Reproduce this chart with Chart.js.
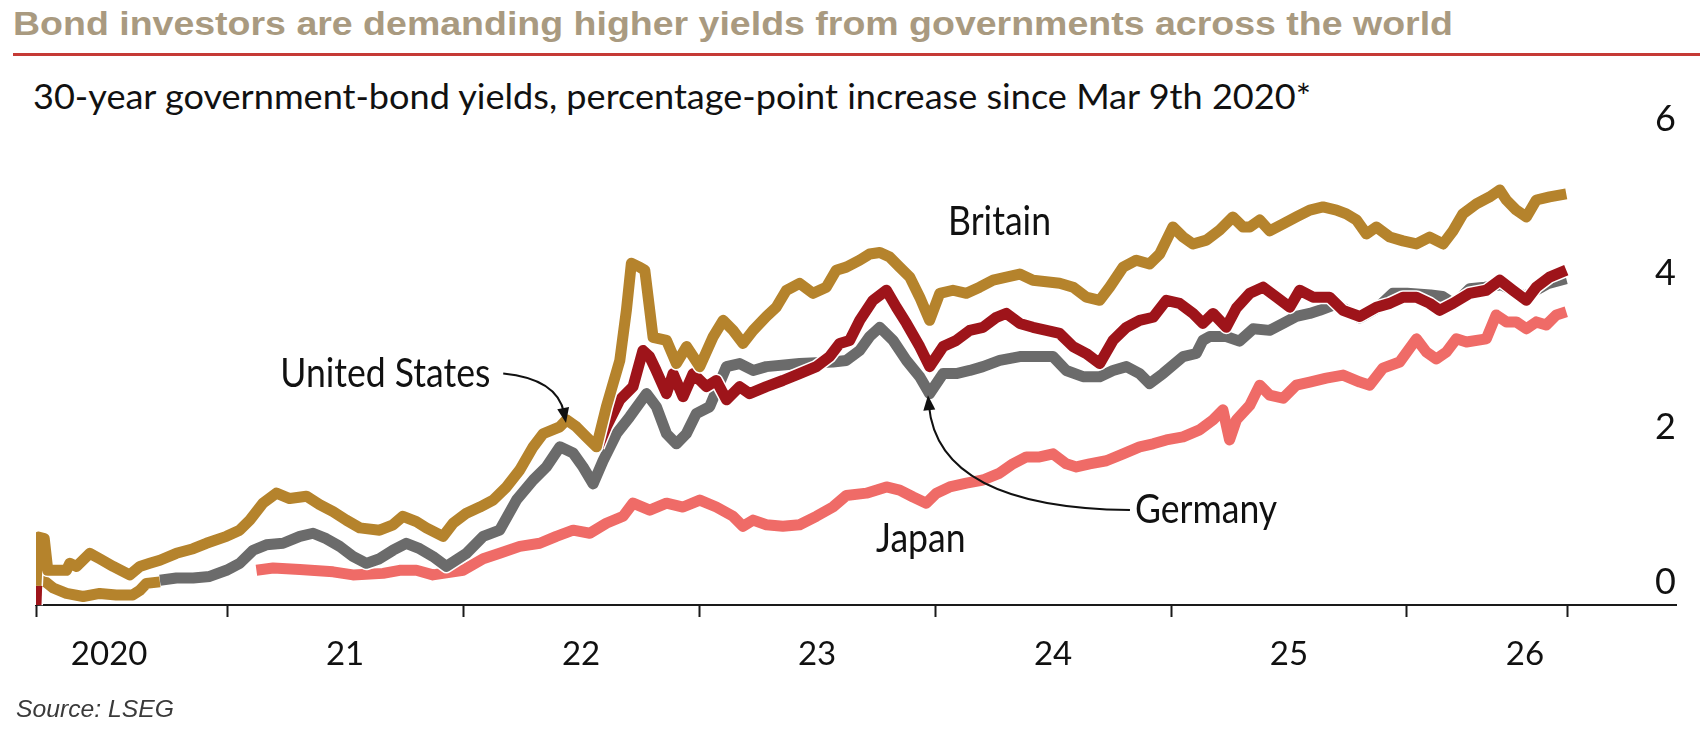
<!DOCTYPE html>
<html>
<head>
<meta charset="utf-8">
<script src="https://cdn.jsdelivr.net/npm/chart.js@4.4.1/dist/chart.umd.min.js"></script>
<style>
  html, body { margin: 0; padding: 0; background: #fff; }
  body { width: 1704px; height: 730px; position: relative; overflow: hidden; }
  #chart { position: absolute; left: 0; top: 0; }
  .txt { position: absolute; white-space: nowrap; transform-origin: 0 0; }
  #title { left: 13px; top: 6px; font: bold 34px/34px 'Liberation Sans', Arial, sans-serif; color: #a99a80; }
  #rule { position: absolute; left: 13px; top: 53px; width: 1687px; height: 3px; background: #c53a35; }
  #subtitle { left: 33px; top: 78px; font: 35px/35px Lato, sans-serif; color: #111; }
  #source { left: 16px; top: 697px; font: italic 24px/24px 'Liberation Sans', Arial, sans-serif; color: #3a3a3a; }
</style>
</head>
<body>
<div id="title" class="txt" data-w="1440">Bond investors are demanding higher yields from governments across the world</div>
<div id="rule"></div>
<div id="subtitle" class="txt" data-w="1278">30-year government-bond yields, percentage-point increase since Mar 9th 2020*</div>
<canvas id="chart" width="1704" height="730"></canvas>
<div id="source" class="txt" data-w="158">Source: LSEG</div>

<script>
// year, percentage-point increase
const britain = [
  [2020.19,0.25],[2020.2,0.88],[2020.225,0.86],[2020.24,0.45],[2020.319,0.45],[2020.333,0.54],[2020.362,0.5],
  [2020.418,0.67],[2020.46,0.6],[2020.517,0.5],[2020.587,0.39],[2020.63,0.5],[2020.672,0.54],[2020.715,0.58],
  [2020.785,0.67],[2020.856,0.73],[2020.912,0.8],[2020.997,0.89],[2021.053,0.97],[2021.096,1.1],[2021.152,1.32],
  [2021.209,1.45],[2021.265,1.38],[2021.336,1.41],[2021.392,1.3],[2021.449,1.21],[2021.505,1.1],[2021.562,1.0],
  [2021.646,0.97],[2021.703,1.04],[2021.745,1.15],[2021.802,1.08],[2021.844,1.0],[2021.915,0.89],[2021.958,1.06],
  [2022.014,1.19],[2022.071,1.27],[2022.127,1.36],[2022.184,1.53],[2022.24,1.75],[2022.297,2.05],[2022.339,2.22],
  [2022.41,2.31],[2022.438,2.4],[2022.48,2.31],[2022.522,2.18],[2022.565,2.05],[2022.607,2.57],[2022.664,3.17],
  [2022.692,3.82],[2022.713,4.43],[2022.748,4.38],[2022.77,4.34],[2022.791,3.82],[2022.805,3.47],[2022.862,3.43],
  [2022.904,3.13],[2022.947,3.35],[2023.003,3.09],[2023.06,3.48],[2023.102,3.69],[2023.144,3.56],[2023.186,3.39],
  [2023.229,3.56],[2023.285,3.74],[2023.327,3.86],[2023.37,4.08],[2023.426,4.17],[2023.483,4.04],[2023.539,4.12],
  [2023.581,4.34],[2023.624,4.38],[2023.681,4.47],[2023.723,4.55],[2023.766,4.57],[2023.808,4.51],[2023.85,4.38],
  [2023.893,4.25],[2023.935,3.99],[2023.977,3.69],[2024.02,4.04],[2024.076,4.08],[2024.133,4.04],[2024.189,4.12],
  [2024.246,4.21],[2024.302,4.25],[2024.359,4.29],[2024.415,4.21],[2024.528,4.17],[2024.585,4.12],[2024.641,3.99],
  [2024.698,3.95],[2024.74,4.12],[2024.797,4.38],[2024.853,4.47],[2024.909,4.42],[2024.952,4.55],[2025.008,4.9],
  [2025.051,4.77],[2025.093,4.68],[2025.15,4.73],[2025.206,4.86],[2025.262,5.03],[2025.305,4.9],[2025.334,4.9],
  [2025.376,4.99],[2025.418,4.85],[2025.475,4.94],[2025.531,5.03],[2025.588,5.12],[2025.644,5.16],[2025.701,5.12],
  [2025.743,5.07],[2025.786,4.99],[2025.828,4.81],[2025.87,4.9],[2025.927,4.77],[2025.983,4.72],[2026.04,4.68],
  [2026.096,4.77],[2026.153,4.68],[2026.195,4.85],[2026.237,5.07],[2026.294,5.2],[2026.35,5.29],[2026.393,5.38],
  [2026.421,5.25],[2026.463,5.12],[2026.506,5.03],[2026.548,5.25],[2026.604,5.29],[2026.675,5.33]
];

const unitedStates = [
  [2020.19,0.0],[2020.197,0.6],[2020.21,0.35],[2020.263,0.22],[2020.319,0.15],[2020.39,0.11],[2020.46,0.15],
  [2020.53,0.13],[2020.6,0.13],[2020.63,0.19],[2020.658,0.28],[2020.715,0.3],[2020.75,null],
  [2022.572,2.05],[2022.607,2.31],[2022.664,2.66],[2022.72,2.83],[2022.762,3.3],[2022.79,3.22],[2022.818,3.04],
  [2022.862,2.74],[2022.89,3.0],[2022.932,2.7],[2022.975,3.0],[2023.031,2.83],[2023.073,2.91],[2023.116,2.66],
  [2023.172,2.83],[2023.214,2.74],[2023.285,2.83],[2023.355,2.91],[2023.426,3.0],[2023.497,3.09],[2023.553,3.22],
  [2023.596,3.39],[2023.638,3.43],[2023.681,3.69],[2023.737,3.95],[2023.794,4.08],[2023.836,3.86],[2023.879,3.65],
  [2023.935,3.35],[2023.977,3.09],[2024.034,3.35],[2024.09,3.43],[2024.147,3.56],[2024.203,3.6],[2024.26,3.73],
  [2024.302,3.78],[2024.359,3.65],[2024.415,3.6],[2024.472,3.56],[2024.528,3.52],[2024.585,3.35],[2024.641,3.26],
  [2024.698,3.13],[2024.754,3.43],[2024.811,3.6],[2024.867,3.69],[2024.924,3.73],[2024.98,3.95],[2025.036,3.91],
  [2025.093,3.78],[2025.135,3.65],[2025.178,3.78],[2025.234,3.6],[2025.277,3.85],[2025.334,4.04],[2025.39,4.12],
  [2025.447,3.99],[2025.503,3.86],[2025.545,4.08],[2025.602,3.99],[2025.672,3.99],[2025.729,3.82],[2025.8,3.74],
  [2025.87,3.86],[2025.927,3.91],[2025.983,3.99],[2026.04,3.99],[2026.096,3.91],[2026.138,3.82],[2026.195,3.91],
  [2026.266,4.04],[2026.336,4.08],[2026.393,4.21],[2026.449,4.08],[2026.506,3.95],[2026.548,4.12],[2026.604,4.25],
  [2026.675,4.34]
];

const germany = [
  [2020.715,0.32],[2020.785,0.35],[2020.856,0.35],[2020.926,0.37],[2020.997,0.45],[2021.053,0.54],[2021.11,0.71],
  [2021.166,0.78],[2021.237,0.8],[2021.308,0.89],[2021.364,0.93],[2021.42,0.86],[2021.477,0.76],[2021.533,0.63],
  [2021.59,0.54],[2021.646,0.6],[2021.703,0.71],[2021.759,0.8],[2021.816,0.73],[2021.872,0.63],[2021.929,0.5],
  [2022.014,0.67],[2022.085,0.89],[2022.155,0.97],[2022.226,1.36],[2022.297,1.62],[2022.353,1.79],[2022.41,2.05],
  [2022.466,1.97],[2022.508,1.79],[2022.551,1.57],[2022.593,1.87],[2022.65,2.22],[2022.706,2.44],[2022.777,2.74],
  [2022.819,2.57],[2022.862,2.22],[2022.904,2.09],[2022.946,2.22],[2022.988,2.48],[2023.045,2.57],[2023.116,3.09],
  [2023.172,3.13],[2023.229,3.04],[2023.285,3.09],[2023.426,3.13],[2023.567,3.15],[2023.624,3.17],[2023.681,3.3],
  [2023.723,3.48],[2023.766,3.6],[2023.822,3.43],[2023.879,3.17],[2023.935,2.96],[2023.977,2.74],[2024.034,3.0],
  [2024.09,3.0],[2024.147,3.04],[2024.203,3.09],[2024.274,3.17],[2024.359,3.22],[2024.5,3.22],[2024.556,3.04],
  [2024.627,2.96],[2024.698,2.96],[2024.754,3.04],[2024.811,3.09],[2024.867,3.0],[2024.909,2.87],[2024.966,3.0],
  [2025.051,3.22],[2025.107,3.26],[2025.135,3.43],[2025.164,3.48],[2025.234,3.48],[2025.29,3.42],[2025.348,3.58],
  [2025.418,3.56],[2025.475,3.65],[2025.531,3.74],[2025.588,3.78],[2025.63,3.82],[2025.7,3.9],[2025.8,3.72],
  [2025.87,3.84],[2025.94,4.04],[2026.0,4.04],[2026.1,4.02],[2026.15,4.0],[2026.2,3.9],[2026.266,4.1],
  [2026.33,4.12],[2026.4,4.15],[2026.5,4.0],[2026.6,4.17],[2026.675,4.23]
];

const japan = [
  [2021.124,0.45],[2021.195,0.48],[2021.308,0.46],[2021.449,0.43],[2021.533,0.39],[2021.661,0.41],[2021.731,0.45],
  [2021.802,0.45],[2021.872,0.39],[2022.0,0.45],[2022.085,0.6],[2022.155,0.67],[2022.24,0.76],[2022.325,0.8],
  [2022.395,0.89],[2022.466,0.97],[2022.537,0.93],[2022.607,1.06],[2022.678,1.15],[2022.72,1.32],[2022.791,1.23],
  [2022.862,1.32],[2022.932,1.27],[2023.003,1.36],[2023.073,1.27],[2023.144,1.15],[2023.186,1.02],[2023.229,1.1],
  [2023.285,1.04],[2023.355,1.02],[2023.426,1.04],[2023.497,1.15],[2023.567,1.27],[2023.624,1.42],[2023.709,1.45],
  [2023.794,1.53],[2023.85,1.49],[2023.907,1.4],[2023.963,1.32],[2024.006,1.45],[2024.062,1.53],[2024.133,1.58],
  [2024.203,1.62],[2024.274,1.71],[2024.33,1.83],[2024.387,1.92],[2024.443,1.92],[2024.5,1.96],[2024.556,1.83],
  [2024.599,1.79],[2024.655,1.83],[2024.726,1.87],[2024.797,1.96],[2024.867,2.05],[2024.924,2.09],[2024.98,2.14],
  [2025.051,2.18],[2025.121,2.27],[2025.178,2.4],[2025.22,2.53],[2025.248,2.14],[2025.277,2.4],[2025.334,2.59],
  [2025.376,2.85],[2025.418,2.72],[2025.475,2.68],[2025.531,2.85],[2025.588,2.89],[2025.658,2.94],[2025.729,2.98],
  [2025.8,2.89],[2025.842,2.85],[2025.898,3.07],[2025.969,3.15],[2026.04,3.45],[2026.082,3.28],[2026.124,3.19],
  [2026.167,3.28],[2026.209,3.45],[2026.252,3.41],[2026.336,3.45],[2026.378,3.76],[2026.421,3.67],[2026.463,3.67],
  [2026.506,3.58],[2026.548,3.67],[2026.59,3.63],[2026.633,3.76],[2026.675,3.8]
];

// axis
const markYears = [2020.19, 2021, 2022, 2023, 2024, 2025, 2026, 2026.68];
const labelYears = [2020.5, 2021.5, 2022.5, 2023.5, 2024.5, 2025.5, 2026.5];
const yearLabels = ['2020', '21', '22', '23', '24', '25', '26'];
const yTicks = [0, 2, 4, 6];

// in-chart labels and arrows, in data units
const seriesNotes = [
  { text: 'Britain', x: 2024.055, y: 4.79 },
  { text: 'United States', x: 2021.225, y: 2.82 },
  { text: 'Germany', x: 2024.847, y: 1.06 },
  { text: 'Japan', x: 2023.75, y: 0.69 }
];
const arrows = [
  { from: [2022.17, 3.0], ctrl: [2022.40, 2.93], to: [2022.436, 2.36] },
  { from: [2024.826, 1.23], ctrl: [2024.013, 1.26], to: [2023.97, 2.72] }
];

const GOLD = '#b5832c';
const RED = '#9e141a';
const GREY = '#6b6b6b';
const SALMON = '#ef6b67';

const toPoints = arr => arr.map(p => ({ x: p[0], y: p[1] }));

// white edge under each line, like the print version
const haloPlugin = {
  id: 'halo',
  beforeDatasetDraw(chart, args) {
    const c = chart.ctx;
    c.save();
    c.strokeStyle = '#fff';
    c.lineWidth = 14;
    c.lineJoin = 'round';
    c.beginPath();
    let pen = false;
    args.meta.data.forEach(pt => {
      if (pt.skip) { pen = false; return; }
      if (!pen) { c.moveTo(pt.x, pt.y); pen = true; } else { c.lineTo(pt.x, pt.y); }
    });
    c.stroke();
    c.restore();
  }
};

const notesPlugin = {
  id: 'notes',
  afterDatasetsDraw(chart) {
    const c = chart.ctx;
    const xs = chart.scales.x, ys = chart.scales.y;
    c.save();
    c.fillStyle = '#111';
    c.font = '40px Lato';
    c.textAlign = 'left';
    c.textBaseline = 'alphabetic';
    seriesNotes.forEach(n => {
      c.save();
      c.translate(xs.getPixelForValue(n.x), ys.getPixelForValue(n.y));
      c.scale(0.89, 1);   // narrow face, like the original
      c.fillText(n.text, 0, 0);
      c.restore();
    });

    c.strokeStyle = '#111';
    c.lineWidth = 2;
    arrows.forEach(a => {
      const fx = xs.getPixelForValue(a.from[0]), fy = ys.getPixelForValue(a.from[1]);
      const cx = xs.getPixelForValue(a.ctrl[0]), cy = ys.getPixelForValue(a.ctrl[1]);
      const tx = xs.getPixelForValue(a.to[0]), ty = ys.getPixelForValue(a.to[1]);
      const ang = Math.atan2(ty - cy, tx - cx);
      const ex = tx - Math.cos(ang) * 10, ey = ty - Math.sin(ang) * 10;
      c.beginPath();
      c.moveTo(fx, fy);
      c.quadraticCurveTo(cx, cy, ex, ey);
      c.stroke();
      c.beginPath();
      c.moveTo(tx, ty);
      c.lineTo(tx - Math.cos(ang) * 15 + Math.sin(ang) * 6, ty - Math.sin(ang) * 15 - Math.cos(ang) * 6);
      c.lineTo(tx - Math.cos(ang) * 15 - Math.sin(ang) * 6, ty - Math.sin(ang) * 15 + Math.cos(ang) * 6);
      c.closePath();
      c.fill();
    });
    c.restore();
  }
};

const lineSet = (label, arr, color) => ({
  label: label,
  data: toPoints(arr),
  borderColor: color,
  borderWidth: 11,
  pointRadius: 0,
  tension: 0,
  borderJoinStyle: 'round',
  fill: false
});

const usSet = lineSet('United States', unitedStates, RED);
// early stretch of the US line shows in the same ochre as Britain
usSet.segment = {
  borderColor: c => (c.p0.parsed.x >= 2020.195 && c.p1.parsed.x <= 2020.75) ? GOLD : undefined
};

const pad = { top: 64, right: 28, bottom: 70, left: 36 };

const chart = new Chart(document.getElementById('chart').getContext('2d'), {
  type: 'line',
  data: {
    datasets: [
      lineSet('Britain', britain, GOLD),
      usSet,
      lineSet('Germany', germany, GREY),
      lineSet('Japan', japan, SALMON)
    ]
  },
  options: {
    responsive: false,
    animation: false,
    layout: { padding: pad },
    plugins: { legend: { display: false }, tooltip: { enabled: false } },
    scales: {
      x: {
        type: 'linear',
        min: 2020.19,
        max: 2027.14,
        afterBuildTicks: s => {
          s.ticks = markYears.concat(labelYears).sort((a, b) => a - b).map(v => ({ value: v }));
        },
        ticks: {
          autoSkip: false,
          maxRotation: 0,
          padding: 18,
          color: '#111',
          font: { family: 'Lato', size: 33 },
          callback: v => {
            const i = labelYears.indexOf(v);
            return i >= 0 ? yearLabels[i] : '';
          }
        },
        grid: {
          drawOnChartArea: false,
          tickLength: 12,
          tickWidth: 2,
          tickColor: c => (c.tick && labelYears.indexOf(c.tick.value) >= 0) ? 'rgba(0,0,0,0)' : '#1a1a1a'
        },
        border: { display: true, color: '#1a1a1a', width: 2 }
      },
      y: {
        position: 'right',
        min: 0,
        max: 7,
        afterBuildTicks: s => { s.ticks = yTicks.map(v => ({ value: v })); },
        ticks: {
          mirror: true,
          padding: 0,
          labelOffset: -23,
          color: '#111',
          font: { family: 'Lato', size: 36 }
        },
        grid: { display: false },
        border: { display: false }
      }
    }
  },
  plugins: [haloPlugin, notesPlugin]
});

// pin the plot box: value 0 at y=605, 7 at ~65, x from 36 to 1676
const ca = chart.chartArea;
pad.left += 36 - ca.left;
pad.right += ca.right - 1676;
pad.top += 65 - ca.top;
pad.bottom += ca.bottom - 605;
chart.update();

// squeeze the html texts to the widths of the original
document.querySelectorAll('.txt').forEach(el => {
  const w = el.getBoundingClientRect().width;
  el.style.transform = 'scaleX(' + (parseFloat(el.dataset.w) / w) + ')';
});
</script>
</body>
</html>
